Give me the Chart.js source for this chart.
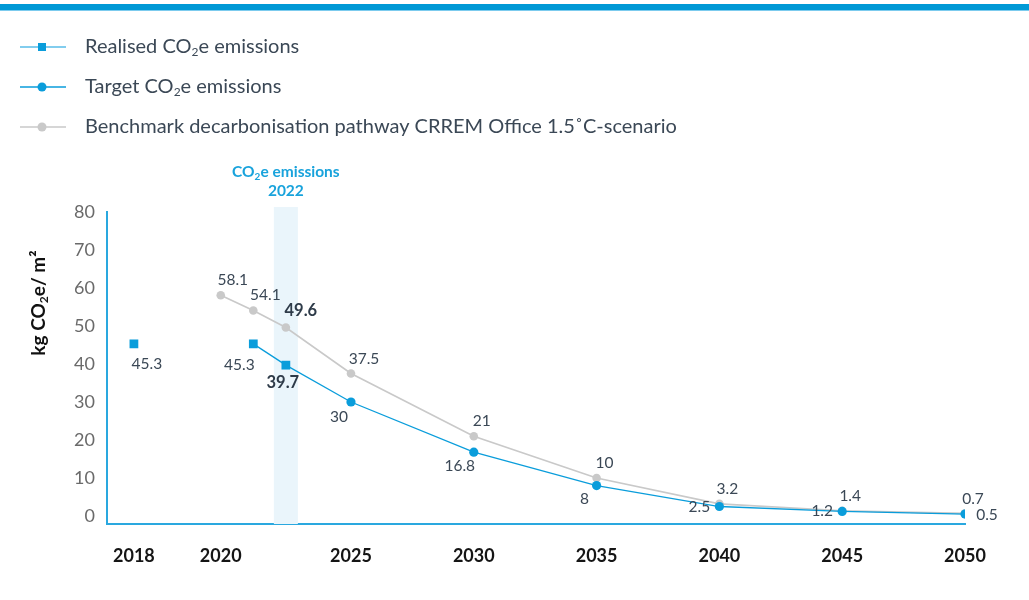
<!DOCTYPE html>
<html>
<head>
<meta charset="utf-8">
<script src="https://cdn.jsdelivr.net/npm/chart.js@4.4.1/dist/chart.umd.min.js"></script>
<style>
  html, body { margin: 0; padding: 0; background: #ffffff; }
  #wrap { position: relative; width: 1029px; height: 600px; }
  #topbar { position: absolute; left: 0; top: 4px; width: 1029px; height: 6px; background: #0099d6; border-bottom: 1px solid #7ccbee; }
  canvas { position: absolute; left: 0; top: 0; }
</style>
</head>
<body>
<div id="wrap">
  <canvas id="c" width="1029" height="600"></canvas>
  <div id="topbar"></div>
</div>
<script>
// ---------- data ----------
const xTickYears = [2018, 2020, 2025, 2030, 2035, 2040, 2045, 2050];
const yTickValues = [0, 10, 20, 30, 40, 50, 60, 70, 80];

const realisedYears  = [2018, 2020, 2021, 2022];
const realisedValues = [45.3, null, 45.3, 39.7];

const targetYears  = [2022, 2025, 2030, 2035, 2040, 2045, 2050];
const targetValues = [39.7, 30, 16.8, 8, 2.5, 1.2, 0.5];

const benchYears  = [2020, 2021, 2022, 2025, 2030, 2035, 2040, 2045, 2050];
const benchValues = [58.1, 54.1, 49.6, 37.5, 21, 10, 3.2, 1.4, 0.7];

const highlightYear = 2022;

// ---------- label placement (style only) ----------
const realisedLabelPos = [[13, 20], null, [-14, 21], [-3, 18]];
const realisedLabelBold = [false, false, false, true];
const targetLabelPos = [null, [-12, 15], [-14, 14], [-12, 13], [-20, 0], [-20, 0], [22, 1]];
const benchLabelPos = [[12, -15], [12, -15], [15, -17], [13, -15], [8, -15], [8, -15], [8, -15], [8, -15], [8, -14]];
const benchLabelBold = [false, false, true, false, false, false, false, false, false];

// ---------- irregular year axis (layout only) ----------
const xBreakYears = [2018, 2020, 2022, 2025, 2050];
const xBreakSlots = [0, 0.7, 1.225, 1.75, 6.7];
function yearToSlot(v) {
  const n = xBreakYears.length;
  let i = 0;
  if (v >= xBreakYears[n - 1]) i = n - 2;
  else if (v > xBreakYears[0]) { while (v > xBreakYears[i + 1]) i++; }
  const y0 = xBreakYears[i], y1 = xBreakYears[i + 1], s0 = xBreakSlots[i], s1 = xBreakSlots[i + 1];
  return s0 + (v - y0) / (y1 - y0) * (s1 - s0);
}
function slotToYear(s) {
  const n = xBreakSlots.length;
  let i = 0;
  if (s >= xBreakSlots[n - 1]) i = n - 2;
  else if (s > xBreakSlots[0]) { while (s > xBreakSlots[i + 1]) i++; }
  const y0 = xBreakYears[i], y1 = xBreakYears[i + 1], s0 = xBreakSlots[i], s1 = xBreakSlots[i + 1];
  return y0 + (s - s0) / (s1 - s0) * (y1 - y0);
}
class BrokenYearScale extends Chart.LinearScale {
  getPixelForValue(value) {
    if (value === null || value === undefined || isNaN(value)) return NaN;
    const a = yearToSlot(this.min), b = yearToSlot(this.max);
    return this.getPixelForDecimal((yearToSlot(value) - a) / (b - a));
  }
  getValueForPixel(pixel) {
    const a = yearToSlot(this.min), b = yearToSlot(this.max);
    return slotToYear(a + this.getDecimalForPixel(pixel) * (b - a));
  }
}
BrokenYearScale.id = 'brokenYear';
BrokenYearScale.defaults = {};
Chart.register(BrokenYearScale);

// ---------- styling ----------
const BLUE = '#0a9ddb';
const BLUE_LIGHT = '#59bde8';
const GREY = '#c9c9c9';
const TEXT = '#3b4856';
const FONT = 'Lato, "Open Sans", sans-serif';

const toPts = (xs, ys) => xs.map((x, i) => ({ x: x, y: ys[i] }));

function drawRich(ctx, parts, x, y, size, weight, color, align) {
  // parts: [text, isSub]
  ctx.save();
  ctx.fillStyle = color;
  ctx.textBaseline = 'middle';
  ctx.textAlign = 'left';
  let total = 0;
  const widths = parts.map(p => {
    ctx.font = weight + ' ' + (p[1] ? Math.round(size * 0.62) : size) + 'px ' + FONT;
    const w = ctx.measureText(p[0]).width;
    total += w;
    return w;
  });
  let cx = align === 'center' ? x - total / 2 : x;
  parts.forEach((p, i) => {
    ctx.font = weight + ' ' + (p[1] ? Math.round(size * 0.62) : size) + 'px ' + FONT;
    ctx.fillText(p[0], cx, p[1] ? y + size * 0.28 : y);
    cx += widths[i];
  });
  ctx.restore();
}

const overlayPlugin = {
  id: 'overlay',
  beforeDatasetsDraw(chart) {
    const { ctx, chartArea, scales } = chart;
    const xc = scales.x.getPixelForValue(highlightYear);
    ctx.save();
    ctx.fillStyle = '#eaf5fb';
    ctx.fillRect(xc - 12, chartArea.top - 5, 24, chartArea.bottom - chartArea.top + 5);
    ctx.restore();
    drawRich(ctx, [['CO', false], ['2', true], ['e emissions', false]], xc, 172, 15.5, 'bold', '#19a3dc', 'center');
    ctx.save();
    ctx.font = 'bold 15.5px ' + FONT;
    ctx.fillStyle = '#19a3dc';
    ctx.textAlign = 'center';
    ctx.textBaseline = 'middle';
    ctx.fillText(String(highlightYear), xc, 191);
    ctx.restore();
  },
  afterDatasetsDraw(chart) {
    const { ctx } = chart;
    const sets = [
      { ds: 0, pos: realisedLabelPos, bold: realisedLabelBold, vals: realisedValues },
      { ds: 1, pos: targetLabelPos, bold: null, vals: targetValues },
      { ds: 2, pos: benchLabelPos, bold: benchLabelBold, vals: benchValues }
    ];
    ctx.save();
    ctx.textAlign = 'center';
    ctx.textBaseline = 'middle';
    sets.forEach(s => {
      const meta = chart.getDatasetMeta(s.ds);
      meta.data.forEach((pt, i) => {
        const p = s.pos[i];
        if (!p || s.vals[i] === null) return;
        const b = s.bold && s.bold[i];
        ctx.font = (b ? 'bold 16.5px ' : '15.5px ') + FONT;
        ctx.fillStyle = b ? '#2e3b49' : TEXT;
        ctx.fillText(String(s.vals[i]), pt.x + p[0], pt.y + p[1]);
      });
    });
    ctx.restore();
  },
  afterDraw(chart) {
    const { ctx } = chart;
    // legend
    const items = [
      { line: BLUE_LIGHT, marker: 'rect', mcolor: BLUE, parts: [['Realised CO', false], ['2', true], ['e emissions', false]] },
      { line: BLUE, marker: 'circle', mcolor: BLUE, parts: [['Target CO', false], ['2', true], ['e emissions', false]] },
      { line: GREY, marker: 'circle', mcolor: GREY, parts: [['Benchmark decarbonisation pathway CRREM Office 1.5\u02DAC-scenario', false]] }
    ];
    items.forEach((it, i) => {
      const y = 47 + i * 40;
      ctx.save();
      ctx.strokeStyle = it.line;
      ctx.lineWidth = 1.5;
      ctx.beginPath(); ctx.moveTo(20, y); ctx.lineTo(66, y); ctx.stroke();
      ctx.fillStyle = it.mcolor;
      if (it.marker === 'rect') ctx.fillRect(38, y - 4, 8, 8);
      else { ctx.beginPath(); ctx.arc(42, y, 4.5, 0, Math.PI * 2); ctx.fill(); }
      ctx.restore();
      drawRich(ctx, it.parts, 85, y, 20, 'normal', TEXT, 'left');
    });
    // y-axis title
    ctx.save();
    ctx.translate(39, 303);
    ctx.rotate(-Math.PI / 2);
    drawRich(ctx, [['kg CO', false], ['2', true], ['e/ m', false], ['\u00B2', false]], 0, 0, 19, 'bold', '#111111', 'center');
    ctx.restore();
  }
};

new Chart(document.getElementById('c'), {
  type: 'line',
  data: {
    datasets: [
      {
        label: 'Realised CO2e emissions',
        data: toPts(realisedYears, realisedValues),
        borderColor: BLUE,
        backgroundColor: BLUE,
        borderWidth: 1.3,
        pointStyle: 'rect',
        pointRadius: 6.2,
        pointBorderWidth: 0,
        spanGaps: false,
        order: 0
      },
      {
        label: 'Target CO2e emissions',
        data: toPts(targetYears, targetValues),
        borderColor: BLUE,
        backgroundColor: BLUE,
        borderWidth: 1.3,
        pointStyle: 'circle',
        pointRadius: targetYears.map((y, i) => i === 0 ? 0 : 4.6),
        pointBorderWidth: 0,
        order: 1
      },
      {
        label: 'Benchmark decarbonisation pathway CRREM Office 1.5°C-scenario',
        data: toPts(benchYears, benchValues),
        borderColor: GREY,
        backgroundColor: GREY,
        borderWidth: 1.6,
        pointStyle: 'circle',
        pointRadius: 4.3,
        pointBorderWidth: 0,
        order: 2
      }
    ]
  },
  options: {
    responsive: false,
    animation: false,
    devicePixelRatio: 1,
    layout: { padding: { left: 0, top: 212, right: 64, bottom: 0 } },
    plugins: { legend: { display: false }, tooltip: { enabled: false } },
    elements: { line: { tension: 0 } },
    scales: {
      x: {
        type: 'brokenYear',
        min: 2017.38,
        max: 2050,
        grid: { display: false, drawTicks: false },
        border: { display: true, color: '#2aa8df', width: 2 },
        afterBuildTicks: (s) => { s.ticks = xTickYears.map(v => ({ value: v })); },
        afterFit: (s) => { s.height = 76; },
        ticks: {
          autoSkip: false,
          maxRotation: 0,
          padding: 21,
          color: '#151515',
          font: { family: FONT, size: 18, weight: 'bold' },
          callback: (v) => String(v)
        }
      },
      y: {
        type: 'linear',
        min: -2.1,
        max: 80,
        grid: { display: false, drawTicks: false },
        border: { display: true, color: '#2aa8df', width: 2 },
        afterBuildTicks: (s) => { s.ticks = yTickValues.map(v => ({ value: v })); },
        afterFit: (s) => { s.width = 107; },
        ticks: {
          padding: 12,
          color: '#6a6a6a',
          font: { family: FONT, size: 18, weight: 'normal' },
          callback: (v) => String(v)
        }
      }
    }
  },
  plugins: [overlayPlugin]
});
</script>
</body>
</html>
